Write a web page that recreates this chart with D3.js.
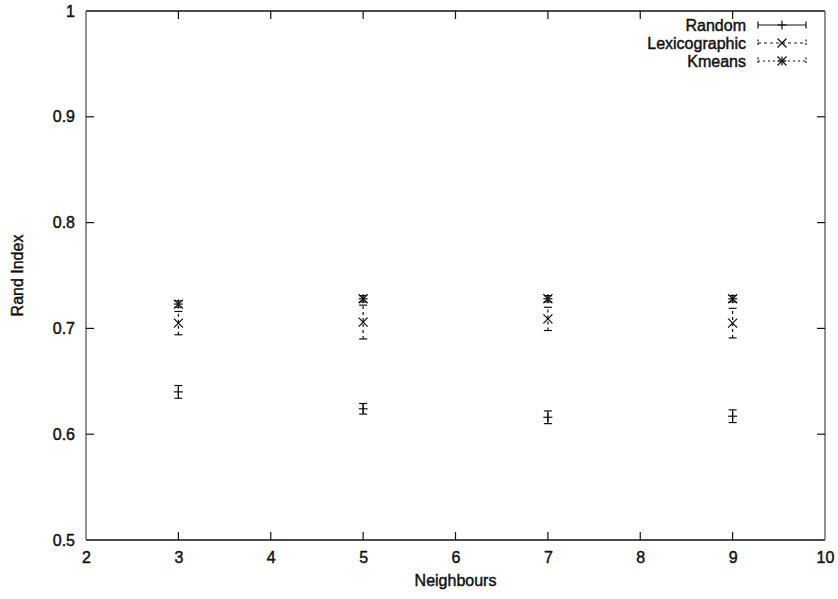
<!DOCTYPE html>
<html>
<head>
<meta charset="utf-8">
<script src="https://cdn.jsdelivr.net/npm/d3@7/dist/d3.min.js"></script>
<style>
  html, body { margin: 0; padding: 0; background: #fff; }
  svg text { font-family: "Liberation Sans", Arial, sans-serif; fill: #111; stroke: #111; stroke-width: 0.45px; }
</style>
</head>
<body>
<svg id="chart" width="838" height="599"></svg>
<script>
// Rand index vs. number of neighbours, three initialisation strategies
const neighbours = [3, 5, 7, 9];
const randomMean = [0.640, 0.624, 0.616, 0.617];
const randomErr  = [0.006, 0.005, 0.006, 0.006];
const lexMean    = [0.705, 0.706, 0.709, 0.705];
const lexErr     = [0.011, 0.016, 0.011, 0.014];
const kmMean     = [0.723, 0.728, 0.728, 0.728];
const kmErr      = [0.003, 0.003, 0.003, 0.003];

const xTicks = [2, 3, 4, 5, 6, 7, 8, 9, 10];
const yTicks = [0.5, 0.6, 0.7, 0.8, 0.9, 1];

const seriesNames = ["Random", "Lexicographic", "Kmeans"];

const svg = d3.select("#chart");
const plotL = 86, plotR = 825, plotT = 11, plotB = 540;

const x = d3.scaleLinear().domain([2, 10]).range([plotL, plotR]);
const y = d3.scaleLinear().domain([0.5, 1]).range([plotB, plotT]);

const ink = "#111";

// frame
const frame = svg.append("g");
frame.append("line").attr("x1", plotL).attr("x2", plotR).attr("y1", plotT).attr("y2", plotT)
  .attr("stroke", ink).attr("stroke-width", 1.3);
frame.append("line").attr("x1", plotL).attr("x2", plotR).attr("y1", plotB).attr("y2", plotB)
  .attr("stroke", ink).attr("stroke-width", 1.3);
frame.append("line").attr("x1", plotL).attr("x2", plotL).attr("y1", plotT).attr("y2", plotB)
  .attr("stroke", "#555").attr("stroke-width", 1.3);
frame.append("line").attr("x1", plotR).attr("x2", plotR).attr("y1", plotT).attr("y2", plotB)
  .attr("stroke", "#555").attr("stroke-width", 1.3);

// axes with inward, mirrored ticks
const tickLen = 8;
const xAxis = d3.axisBottom(x).tickValues(xTicks).tickFormat(d3.format("d")).tickSize(0).tickPadding(12);
const gx = svg.append("g").attr("transform", `translate(0,${plotB})`).call(xAxis);
gx.select(".domain").remove();
gx.selectAll("text").attr("font-size", 16).attr("dy", "0.71em");

const yAxis = d3.axisLeft(y).tickValues(yTicks).tickFormat(d => d === 1 ? "1" : d3.format(".1f")(d)).tickSize(0).tickPadding(11);
const gy = svg.append("g").attr("transform", `translate(${plotL},0)`).call(yAxis);
gy.select(".domain").remove();
gy.selectAll("text").attr("font-size", 16);

const ticks = svg.append("g").attr("stroke", ink).attr("stroke-width", 1.2);
xTicks.slice(1, -1).forEach(t => {
  ticks.append("line").attr("x1", x(t)).attr("x2", x(t)).attr("y1", plotB).attr("y2", plotB - tickLen);
  ticks.append("line").attr("x1", x(t)).attr("x2", x(t)).attr("y1", plotT).attr("y2", plotT + tickLen);
});
yTicks.slice(1, -1).forEach(t => {
  ticks.append("line").attr("x1", plotL).attr("x2", plotL + tickLen).attr("y1", y(t)).attr("y2", y(t));
  ticks.append("line").attr("x1", plotR).attr("x2", plotR - tickLen).attr("y1", y(t)).attr("y2", y(t));
});

// axis titles
svg.append("text").attr("x", (plotL + plotR) / 2).attr("y", 586)
  .attr("text-anchor", "middle").attr("font-size", 16).text("Neighbours");
svg.append("text").attr("transform", `translate(23,${(plotT + plotB) / 2}) rotate(-90)`)
  .attr("text-anchor", "middle").attr("font-size", 16).text("Rand Index");

// point markers
function marker(g, cx, cy, kind) {
  const s = 4.5;
  const add = (x1, y1, x2, y2) => g.append("line").attr("x1", x1).attr("y1", y1).attr("x2", x2).attr("y2", y2)
    .attr("stroke", ink).attr("stroke-width", 1.2);
  if (kind === "plus" || kind === "star") {
    add(cx - s, cy, cx + s, cy);
    add(cx, cy - s, cx, cy + s);
  }
  if (kind === "cross" || kind === "star") {
    add(cx - s, cy - s, cx + s, cy + s);
    add(cx - s, cy + s, cx + s, cy - s);
  }
}

const series = [
  { name: seriesNames[0], mean: randomMean, err: randomErr, kind: "plus", dash: null },
  { name: seriesNames[1], mean: lexMean, err: lexErr, kind: "cross", dash: "3,3" },
  { name: seriesNames[2], mean: kmMean, err: kmErr, kind: "star", dash: "2,3" }
];

const cap = 4;
series.forEach(s => {
  const g = svg.append("g");
  neighbours.forEach((n, i) => {
    const cx = x(n);
    const y0 = y(s.mean[i] - s.err[i]);
    const y1 = y(s.mean[i] + s.err[i]);
    g.append("line").attr("x1", cx).attr("x2", cx).attr("y1", y0).attr("y2", y1)
      .attr("stroke", ink).attr("stroke-width", 1.2).attr("stroke-dasharray", s.dash);
    g.append("line").attr("x1", cx - cap).attr("x2", cx + cap).attr("y1", y0).attr("y2", y0)
      .attr("stroke", ink).attr("stroke-width", 1.2);
    g.append("line").attr("x1", cx - cap).attr("x2", cx + cap).attr("y1", y1).attr("y2", y1)
      .attr("stroke", ink).attr("stroke-width", 1.2);
    marker(g, cx, y(s.mean[i]), s.kind);
  });
});

// legend
const legend = svg.append("g");
series.forEach((s, i) => {
  const ly = 25 + i * 18;
  legend.append("text").attr("x", 746).attr("y", ly).attr("dy", "0.35em")
    .attr("text-anchor", "end").attr("font-size", 16).text(s.name);
  const x0 = 758, x1 = 806, mid = (x0 + x1) / 2;
  legend.append("line").attr("x1", x0).attr("x2", x1).attr("y1", ly).attr("y2", ly)
    .attr("stroke", ink).attr("stroke-width", 1.2).attr("stroke-dasharray", s.dash);
  [x0, x1].forEach(xe => legend.append("line").attr("x1", xe).attr("x2", xe)
    .attr("y1", ly - 3.5).attr("y2", ly + 3.5).attr("stroke", ink).attr("stroke-width", 1.2)
    .attr("stroke-dasharray", s.dash ? "2,1.5" : null));
  marker(legend, mid, ly, s.kind);
});
</script>
</body>
</html>
